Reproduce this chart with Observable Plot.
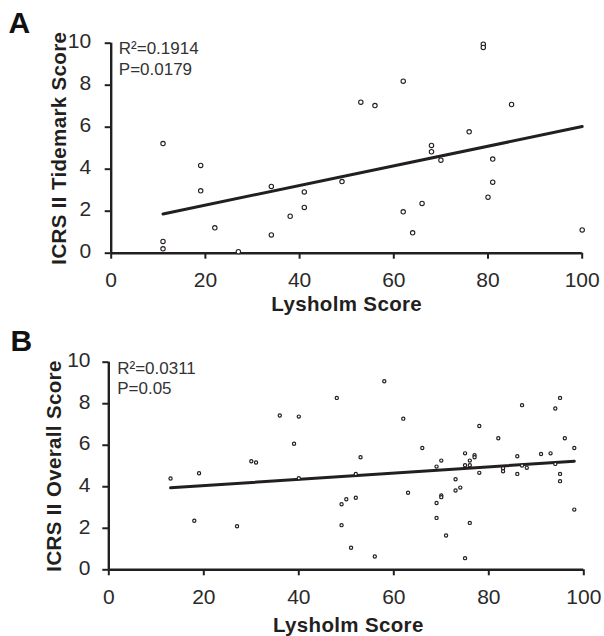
<!DOCTYPE html>
<html>
<head>
<meta charset="utf-8">
<script src="https://cdn.jsdelivr.net/npm/d3@7"></script>
<script src="https://cdn.jsdelivr.net/npm/@observablehq/plot@0.6"></script>
<style>
  html, body { margin: 0; padding: 0; background: #fff; }
  #chart svg { display: block; }
</style>
</head>
<body>
<div id="chart"></div>
<script>
// Panel A: Lysholm score vs ICRS II Tidemark score
const lysholmA = [11, 11, 11, 19, 19, 22, 27, 34, 34, 38, 41, 41, 49, 53, 56, 62, 62, 64, 66, 68, 68, 70, 76, 79, 79, 80, 81, 81, 85, 100];
const tidemarkA = [5.22, 0.56, 0.21, 4.18, 2.97, 1.21, 0.07, 3.18, 0.87, 1.76, 2.92, 2.18, 3.41, 7.19, 7.03, 8.19, 1.97, 0.97, 2.37, 5.13, 4.83, 4.43, 5.78, 9.95, 9.8, 2.67, 4.48, 3.38, 7.08, 1.11];
const fitAx = [11, 100];
const fitAy = [1.87, 6.03];
const statsA = ["R²=0.1914", "P=0.0179"];

// Panel B: Lysholm score vs ICRS II Overall score
const lysholmB = [13, 18, 19, 27, 30, 31, 36, 39, 40, 40, 48, 49, 49, 50, 51, 52, 52, 53, 56, 58, 62, 63, 66, 69, 69, 69, 70, 70, 70, 71, 73, 73, 74, 75, 75, 75, 76, 76, 76, 77, 77, 78, 78, 82, 83, 83, 86, 86, 87, 87, 88, 91, 93, 94, 94, 95, 95, 95, 96, 98, 98];
const overallB = [4.40, 2.36, 4.65, 2.10, 5.23, 5.17, 7.43, 6.07, 7.38, 4.41, 8.28, 3.16, 2.15, 3.40, 1.06, 4.62, 3.47, 5.42, 0.64, 9.08, 7.28, 3.71, 5.87, 4.97, 3.22, 2.50, 5.26, 3.58, 3.50, 1.65, 4.36, 3.82, 3.96, 5.61, 5.04, 0.56, 5.26, 5.04, 2.26, 5.52, 5.42, 6.93, 4.67, 6.34, 4.89, 4.75, 5.47, 4.62, 7.93, 5.02, 4.91, 5.58, 5.61, 7.77, 5.10, 8.28, 4.62, 4.27, 6.34, 5.87, 2.90];
const fitBx = [13, 98];
const fitBy = [3.95, 5.23];
const statsB = ["R²=0.0311", "P=0.05"];

const xTicks = [0, 20, 40, 60, 80, 100];
const yTicks = [0, 2, 4, 6, 8, 10];
const xTitle = "Lysholm Score";
const yTitleA = "ICRS II Tidemark Score";
const yTitleB = "ICRS II Overall Score";

const INK = "#231f20";
const LABEL = "#2a2a2a";
const FONT = "'Liberation Sans', Arial, Helvetica, sans-serif";

function panel(cfg) {
  const idx = d3.range(cfg.xs.length);
  const fidx = d3.range(cfg.fx.length);
  const svg = Plot.plot({
    width: 604,
    height: 318,
    marginLeft: cfg.m[0], marginRight: cfg.m[1], marginTop: cfg.m[2], marginBottom: cfg.m[3],
    x: {domain: [0, 100]},
    y: {domain: [0, 10]},
    style: {fontFamily: FONT, background: "white", color: INK, overflow: "visible"},
    marks: [
      Plot.axisX({ticks: xTicks, tickSize: 6, tickFormat: () => "", label: null, strokeWidth: 2, stroke: INK}),
      Plot.axisY({ticks: yTicks, tickSize: 6, tickFormat: () => "", label: null, strokeWidth: 2, stroke: INK}),
      Plot.ruleY([0], {stroke: INK, strokeWidth: 2.4}),
      Plot.ruleX([0], {stroke: INK, strokeWidth: 2.4}),
      // tick labels
      Plot.text(xTicks, {x: d => d, text: d => String(d), frameAnchor: "bottom", textAnchor: "middle", lineAnchor: "top", dy: cfg.xLabDy, fontSize: 21, fill: LABEL}),
      Plot.text(yTicks, {y: d => d, text: d => String(d), frameAnchor: "left", textAnchor: "end", lineAnchor: "middle", dx: cfg.yLabDx, dy: -1.5, fontSize: 21, fill: LABEL}),
      Plot.line(fidx, {x: i => cfg.fx[i], y: i => cfg.fy[i], stroke: INK, strokeWidth: 3}),
      Plot.dot(idx, {x: i => cfg.xs[i], y: i => cfg.ys[i], r: cfg.r, stroke: INK, strokeWidth: cfg.sw, fill: "white"}),
      Plot.text([cfg.stats[0]], {text: d => d, frameAnchor: "top-left", textAnchor: "start", lineAnchor: "middle", dx: cfg.statDx, dy: cfg.statDy[0], fontSize: 17, fill: "#333"}),
      Plot.text([cfg.stats[1]], {text: d => d, frameAnchor: "top-left", textAnchor: "start", lineAnchor: "middle", dx: cfg.statDx, dy: cfg.statDy[1], fontSize: 17, fill: "#333"}),
      Plot.text([xTitle], {text: d => d, frameAnchor: "bottom", textAnchor: "middle", lineAnchor: "middle", dx: cfg.xTitleDx, dy: cfg.xTitleDy, fontSize: 20.5, fontWeight: "bold", fill: INK}),
      Plot.text([cfg.yTitle], {text: d => d, frameAnchor: "left", textAnchor: "middle", lineAnchor: "middle", rotate: -90, dx: cfg.yTitleDx, fontSize: 20.5, fontWeight: "bold", fill: INK}),
      Plot.text([cfg.letter], {text: d => d, frameAnchor: "top-left", textAnchor: "start", lineAnchor: "middle", dx: cfg.letterDx, dy: cfg.letterDy, fontSize: 30, fontWeight: "bold", fill: "#111"})
    ]
  });
  d3.select(svg).selectAll("text").filter(function () { return this.getAttribute("font-weight") === "bold" || (this.parentNode && this.parentNode.getAttribute("font-weight") === "bold"); }).attr("letter-spacing", 0.35);
  return svg;
}

const chart = document.getElementById("chart");
chart.append(panel({
  xs: lysholmA, ys: tidemarkA, fx: fitAx, fy: fitAy, stats: statsA,
  yTitle: yTitleA, letter: "A",
  m: [110.7, 22.3, 42.7, 65.3],
  r: 2.2, sw: 1.1,
  xLabDy: 19.3, yLabDx: -20,
  statDx: 7.6, statDy: [5.5, 26.5],
  xTitleDx: 0, xTitleDy: 51,
  yTitleDx: -52,
  letterDx: -102.7, letterDy: -19.7
}));
chart.append(panel({
  xs: lysholmB, ys: overallB, fx: fitBx, fy: fitBy, stats: statsB,
  yTitle: yTitleB, letter: "B",
  m: [108.3, 20.7, 43.7, 66.7],
  r: 1.6, sw: 1.2,
  xLabDy: 19, yLabDx: -18.3,
  statDx: 8.4, statDy: [6.6, 26.8],
  xTitleDx: 2, xTitleDy: 55.7,
  yTitleDx: -54,
  letterDx: -98.3, letterDy: -20.7
}));
</script>
</body>
</html>
